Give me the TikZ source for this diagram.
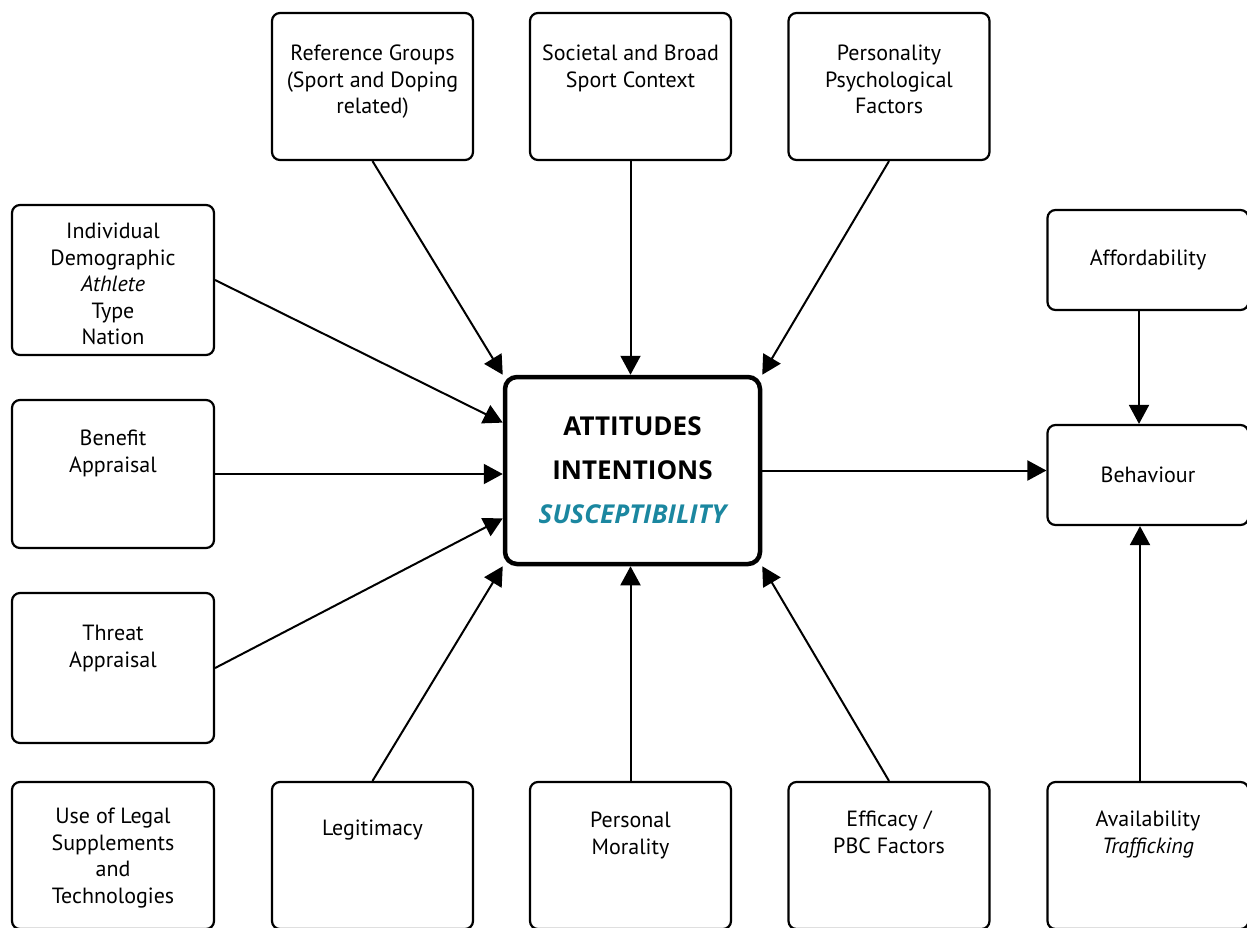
\documentclass[tikz,border=0pt]{standalone}
\usepackage{fontspec}
\setmainfont{PT Sans}
\newfontfamily\ofont{Open Sans}
\usetikzlibrary{arrows.meta,calc}
\definecolor{suscol}{HTML}{1B87A0}
\begin{document}
\begin{tikzpicture}[x=1pt,y=-1pt,
  box/.style={draw=black, line width=2.2pt, rounded corners=8pt, minimum width=201pt, minimum height=147pt, inner sep=0pt},
  smallbox/.style={box, minimum height=100pt, font=\fontsize{22}{27}\selectfont},
  centre/.style={draw=black, line width=4.5pt, rounded corners=12pt, minimum width=255pt, minimum height=187pt, align=center, font=\ofont\bfseries\fontsize{26}{44}\selectfont},
  txt/.style={anchor=north, inner sep=0pt, align=center, font=\fontsize{22}{26.5}\selectfont},
  arr/.style={line width=2pt, -{Triangle[length=19pt,width=20pt]}}
]
\path[use as bounding box, clip] (0,0) rectangle (1247,927);

% top row
\node[box] (ref)  at (372.5,86.5) {};
\node[box] (soc)  at (630.5,86.5) {};
\node[box] (pers) at (889,86.5) {};
% left column
\node[box, minimum width=202pt, minimum height=150pt] (indiv) at (113,280) {};
\node[box, minimum width=202pt, minimum height=148pt] (ben) at (113,474) {};
\node[box, minimum width=202pt, minimum height=150pt] (thr) at (113,668) {};
% bottom row
\node[box, minimum width=202pt] (legal) at (113,855.5) {};
\node[box] (legit) at (372.5,855.5) {};
\node[box] (moral) at (630.5,855.5) {};
\node[box] (eff)   at (889,855.5) {};
\node[box] (avail) at (1148,855.5) {};
% right column
\node[smallbox] (aff) at (1148,260) {Affordability};
\node[smallbox] (beh) at (1148,475) {Behaviour};
% centre
\node[centre] (c) at (632.5,470.5) {ATTITUDES\\INTENTIONS\\\textcolor{suscol}{\itshape SUSCEPTIBILITY}};

% texts
\node[txt] (refT)   at ($(ref.north)+(0,33)$) {Reference Groups\\(Sport and Doping\\related)};
\node[txt] (socT)   at ($(soc.north)+(0,33)$) {Societal and Broad\\Sport Context};
\node[txt] (persT)  at ($(pers.north)+(0,33)$) {Personality\\Psychological\\Factors};
\node[txt] (indivT) at ($(indiv.north)+(0,19)$) {Individual\\Demographic\\\textit{Athlete}\\Type\\Nation};
\node[txt] (benT)   at ($(ben.north)+(0,31)$) {Benefit\\Appraisal};
\node[txt] (thrT)   at ($(thr.north)+(0,33)$) {Threat\\Appraisal};
\node[txt] (legalT) at ($(legal.north)+(0,27)$) {Use of Legal\\Supplements\\and\\Technologies};
\node[txt] (legitT) at ($(legit.north)+(0,39)$) {Legitimacy};
\node[txt] (moralT) at ($(moral.north)+(0,31)$) {Personal\\Morality};
\node[txt] (effT)   at ($(eff.north)+(0,30)$) {Efficacy /\\PBC Factors};
\node[txt] (availT) at ($(avail.north)+(0,30)$) {Availability\\\textit{Trafficking}};

% arrows into centre
\draw[arr] (ref.south) -- (c.north west);
\draw[arr] (soc.south) -- (soc.south |- c.north);
\draw[arr] (pers.south) -- (c.north east);
\draw[arr] (indiv.east) -- ($(c.west)!0.5!(c.north west)$);
\draw[arr] (ben.east) -- (ben.east -| c.west);
\draw[arr] (thr.east) -- ($(c.west)!0.5!(c.south west)$);
\draw[arr] (legit.north) -- (c.south west);
\draw[arr] (moral.north) -- (moral.north |- c.south);
\draw[arr] (eff.north) -- (c.south east);
% to behaviour
\draw[arr] (c.east) -- (c.east -| beh.west);
\draw[arr] ([xshift=-9pt]aff.south) -- ([xshift=-9pt]beh.north);
\draw[arr] ([xshift=-8pt]avail.north) -- ([xshift=-8pt]beh.south);
\end{tikzpicture}
\end{document}
